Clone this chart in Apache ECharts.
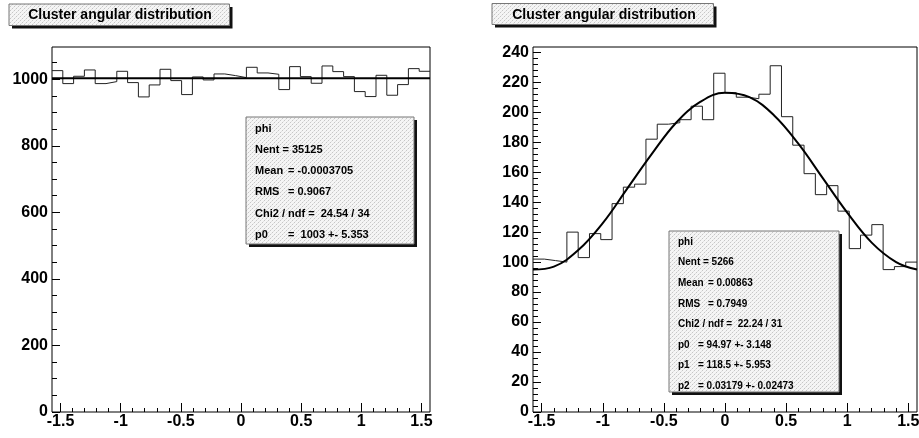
<!DOCTYPE html>
<html><head><meta charset="utf-8">
<script src="https://cdn.jsdelivr.net/npm/echarts@6/dist/echarts.min.js"></script>
<style>html,body{margin:0;padding:0;background:#fff}#c{width:919px;height:438px}</style>
</head><body><div id="c"></div>
<script>
// ---------------- data ----------------
const X_MIN = -1.5708, X_MAX = 1.5708;
const xMajorTicks = [-1.5, -1, -0.5, 0, 0.5, 1, 1.5];
const xMinorTicks = [-1.5,-1.4,-1.3,-1.2,-1.1,-1.0,-0.9,-0.8,-0.7,-0.6,-0.5,-0.4,-0.3,-0.2,-0.1,0,
                     0.1,0.2,0.3,0.4,0.5,0.6,0.7,0.8,0.9,1.0,1.1,1.2,1.3,1.4,1.5];

// left panel : flat distribution, 35 bins
const leftCounts = [1026, 987, 1009, 1028, 987, 993, 1024, 990, 947, 983, 1030, 996, 954, 1007, 998,
                    1016, 1011, 1005, 1036, 1019, 1015, 969, 1038, 1008, 988, 1040, 1023, 1008, 963,
                    948, 1012, 952, 984, 1032, 1024];
const leftFitX = [-1.5708, 1.5708];
const leftFitY = [1003, 1003];
const leftYMax = 1097;
const leftYMajor = [0, 200, 400, 600, 800, 1000];
const leftYMinor = [50,100,150,200,250,300,350,400,450,500,550,600,650,700,750,800,850,900,950,1000,1050];

// right panel : cos^2-like distribution, 34 bins
const rightCounts = [102, 101, 100, 120, 103, 119, 115, 139, 150, 152, 182, 192, 193, 195, 204, 195,
                     226, 213, 210, 209, 212, 231, 197, 178, 159, 145, 151, 134, 109, 118, 125, 95, 97, 100];
const rightFitX = [-1.5708, -1.4, -1.2, -1.0, -0.8, -0.6, -0.4, -0.2, 0, 0.2, 0.4, 0.6, 0.8, 1.0, 1.2, 1.4, 1.5708];
const rightFitY = [95, 97, 108, 126, 149, 172, 193, 207, 213, 210, 198, 179, 156, 133, 113, 100, 95];
const rightYMax = 243.5;
const rightYMajor = [0, 20, 40, 60, 80, 100, 120, 140, 160, 180, 200, 220, 240];
const rightYMinor = [4,8,12,16,24,28,32,36,44,48,52,56,64,68,72,76,84,88,92,96,104,108,112,116,
                     124,128,132,136,144,148,152,156,164,168,172,176,184,188,192,196,204,208,212,216,
                     224,228,232,236];

const titleText = 'Cluster angular distribution';
const leftStats = [
  ['phi', ''],
  ['Nent = 35125', ''],
  ['Mean', '= -0.0003705'],
  ['RMS', '= 0.9067'],
  ['Chi2 / ndf =  24.54 / 34', ''],
  ['p0', '=  1003 +- 5.353']
];
const rightStats = [
  ['phi', ''],
  ['Nent = 5266', ''],
  ['Mean', '= 0.00863'],
  ['RMS', '= 0.7949'],
  ['Chi2 / ndf =  22.24 / 31', ''],
  ['p0', '= 94.97 +- 3.148'],
  ['p1', '= 118.5 +- 5.953'],
  ['p2', '= 0.03179 +- 0.02473']
];

// ---------------- helpers ----------------
function histPoints(counts) {
  const n = counts.length, w = (X_MAX - X_MIN) / n;
  const pts = counts.map((v, i) => [X_MIN + i * w, v]);
  pts.push([X_MAX, counts[n - 1]]);
  return pts;
}
function zip(xs, ys) { return xs.map((x, i) => [x, ys[i]]); }

function makePattern() {
  const c = document.createElement('canvas'); c.width = 4; c.height = 4;
  const g = c.getContext('2d');
  g.fillStyle = '#f5f5f5'; g.fillRect(0, 0, 4, 4);
  g.fillStyle = '#c6c6c6'; g.fillRect(0, 0, 1, 1); g.fillRect(2, 2, 1, 1);
  g.fillStyle = '#e2e2e2'; g.fillRect(3, 1, 1, 1); g.fillRect(1, 3, 1, 1);
  return c;
}
const pat = makePattern();
const patFill = { image: pat, repeat: 'repeat' };

const AX_FONT = { fontFamily: '"Liberation Sans", Arial, sans-serif', fontWeight: 'bold', fontSize: 16, color: '#000' };

function xAxes(gi) {
  const base = { gridIndex: gi, type: 'value', min: X_MIN, max: X_MAX, position: 'bottom',
                 axisLine: { show: false, onZero: false }, splitLine: { show: false } };
  return [
    Object.assign({}, base, {
      axisTick: { show: true, inside: true, length: 9, customValues: xMajorTicks, lineStyle: { color: '#000', width: 1 } },
      axisLabel: Object.assign({ show: true, customValues: xMajorTicks, margin: 2, formatter: v => String(v) }, AX_FONT)
    }),
    Object.assign({}, base, {
      axisTick: { show: true, inside: true, length: 4, customValues: xMinorTicks, lineStyle: { color: '#000', width: 1 } },
      axisLabel: { show: false }
    })
  ];
}
function yAxes(gi, max, major, minor) {
  const base = { gridIndex: gi, type: 'value', min: 0, max: max, position: 'left',
                 axisLine: { show: false, onZero: false }, splitLine: { show: false } };
  return [
    Object.assign({}, base, {
      axisTick: { show: true, inside: true, length: 8, customValues: major, lineStyle: { color: '#000', width: 1 } },
      axisLabel: Object.assign({ show: true, customValues: major, margin: 4, formatter: v => String(v) }, AX_FONT)
    }),
    Object.assign({}, base, {
      axisTick: { show: true, inside: true, length: 5, customValues: minor, lineStyle: { color: '#000', width: 1 } },
      axisLabel: { show: false }
    })
  ];
}

function pave(x, y, w, h, z) {
  return [
    { type: 'rect', z: z, shape: { x: x + 3, y: y + 3, width: w, height: h }, style: { fill: '#111' } },
    { type: 'rect', z: z + 1, shape: { x: x, y: y, width: w, height: h }, style: { fill: patFill, stroke: '#777', lineWidth: 1 } }
  ];
}
function textEl(x, y, str, font, align, z) {
  return { type: 'text', z: z, x: x, y: y,
           style: { text: str, font: font, fill: '#000', align: align || 'left', verticalAlign: 'middle' } };
}

const F11 = 'bold 11px "Liberation Sans", Arial, sans-serif';
const F10 = 'bold 10px "Liberation Sans", Arial, sans-serif';
const graphics = [];
// title boxes
graphics.push(...pave(9, 4, 220.5, 21.5, 10));
graphics.push(textEl(120, 15.5, titleText, 'bold 14px "Liberation Sans", Arial, sans-serif', 'center', 12));
graphics.push(...pave(492, 3.5, 221.5, 21, 10));
graphics.push(textEl(604, 15, titleText, 'bold 14px "Liberation Sans", Arial, sans-serif', 'center', 12));
// stats boxes
graphics.push(...pave(246, 117, 168, 127, 10));
leftStats.forEach((r, i) => {
  const y = 128.5 + i * 21.3;
  graphics.push(textEl(255, y, r[0], F11, 'left', 12));
  if (r[1]) graphics.push(textEl(288, y, r[1], F11, 'left', 12));
});
graphics.push(...pave(669, 231, 170, 161, 10));
rightStats.forEach((r, i) => {
  const y = 242 + i * 20.6;
  graphics.push(textEl(678, y, r[0], F10, 'left', 12));
  if (r[1]) graphics.push(textEl(r[0].length > 2 ? 708 : 698, y, r[1], F10, 'left', 12));
});

const option = {
  animation: false,
  backgroundColor: '#fff',
  grid: [
    { left: 52, top: 47, width: 378, height: 365, show: true, borderColor: '#000', borderWidth: 1, backgroundColor: 'transparent', containLabel: false, outerBoundsMode: 'none' },
    { left: 533, top: 47, width: 384, height: 365, show: true, borderColor: '#000', borderWidth: 1, backgroundColor: 'transparent', containLabel: false, outerBoundsMode: 'none' }
  ],
  xAxis: [...xAxes(0), ...xAxes(1)],
  yAxis: [...yAxes(0, leftYMax, leftYMajor, leftYMinor), ...yAxes(1, rightYMax, rightYMajor, rightYMinor)],
  series: [
    { type: 'line', xAxisIndex: 0, yAxisIndex: 0, step: 'end', symbol: 'none', data: histPoints(leftCounts),
      lineStyle: { color: '#222', width: 1 }, clip: true },
    { type: 'line', xAxisIndex: 0, yAxisIndex: 0, symbol: 'none', data: zip(leftFitX, leftFitY),
      lineStyle: { color: '#000', width: 2 }, clip: true },
    { type: 'line', xAxisIndex: 2, yAxisIndex: 2, step: 'end', symbol: 'none', data: histPoints(rightCounts),
      lineStyle: { color: '#222', width: 1 }, clip: true },
    { type: 'line', xAxisIndex: 2, yAxisIndex: 2, symbol: 'none', smooth: 0.4, data: zip(rightFitX, rightFitY),
      lineStyle: { color: '#000', width: 2 }, clip: true }
  ],
  graphic: graphics
};

const chart = echarts.init(document.getElementById('c'), null, { renderer: 'canvas' });
chart.setOption(option);
</script>
</body></html>
